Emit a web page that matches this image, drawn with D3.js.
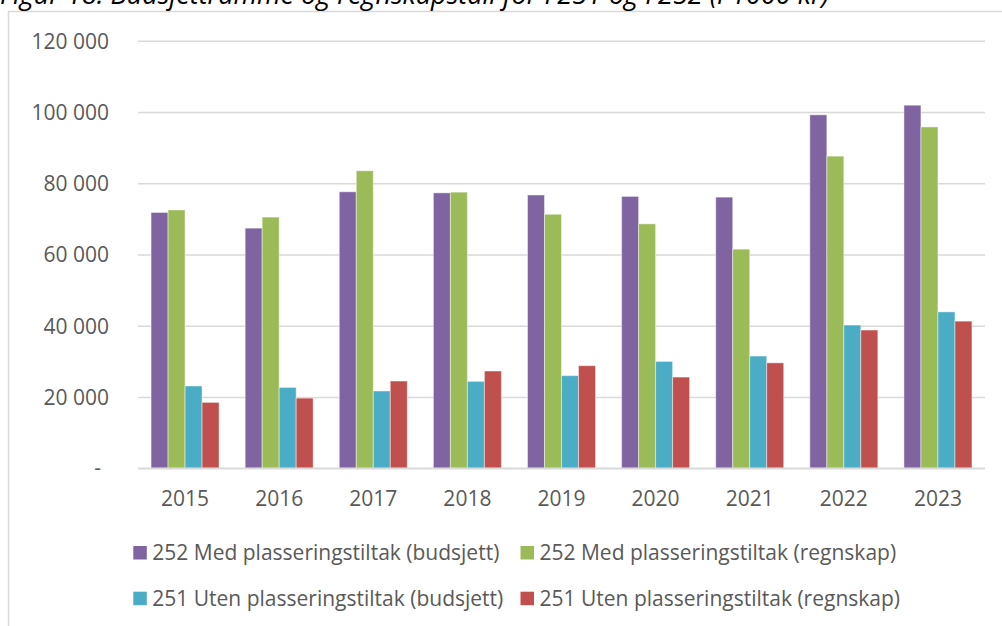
<!DOCTYPE html>
<html>
<head>
<meta charset="utf-8">
<script src="https://cdn.jsdelivr.net/npm/d3@7"></script>
<style>
  html, body { margin: 0; padding: 0; background: #fff; }
  svg { display: block; }
  text { font-family: "Open Sans", "Noto Sans", sans-serif; }
</style>
</head>
<body>
<svg id="chart" width="1002" height="626"></svg>
<script>
const titleText = "Figur 18: Budsjettramme og regnskapstall for F251 og F252 (i 1000 kr)";
const years = ["2015", "2016", "2017", "2018", "2019", "2020", "2021", "2022", "2023"];
const seriesNames = [
  "252 Med plasseringstiltak (budsjett)",
  "252 Med plasseringstiltak (regnskap)",
  "251 Uten plasseringstiltak (budsjett)",
  "251 Uten plasseringstiltak (regnskap)"
];
const seriesColors = ["#8064A2", "#9BBB59", "#4BACC6", "#C0504D"];
const med252Budsjett  = [71800, 67400, 77600, 77300, 76700, 76300, 76100, 99200, 101900];
const med252Regnskap  = [72500, 70500, 83500, 77500, 71300, 68600, 61500, 87600, 95800];
const uten251Budsjett = [23100, 22700, 21700, 24400, 26000, 30000, 31500, 40200, 43900];
const uten251Regnskap = [18500, 19700, 24500, 27300, 28800, 25600, 29600, 38800, 41300];
const yTicks = [0, 20000, 40000, 60000, 80000, 100000, 120000];

const seriesValues = [med252Budsjett, med252Regnskap, uten251Budsjett, uten251Regnskap];

const svg = d3.select("#chart");
const textColor = "#595959";
const gridColor = "#d9d9d9";
const fontSize = 21;

// chart frame
svg.append("path")
  .attr("d", "M8.5,626 L8.5,11.5 L1002,11.5")
  .attr("fill", "none")
  .attr("stroke", gridColor)
  .attr("stroke-width", 1.5);

// title (partially cut off at top, as in the reference)
svg.append("text")
  .attr("x", 0)
  .attr("y", 4)
  .attr("font-style", "italic")
  .attr("font-size", 27)
  .attr("fill", "#000")
  .text(titleText);

const x0 = d3.scaleBand().domain(years).range([138, 985]).paddingInner(0.2774).paddingOuter(0.1387);
const x1 = d3.scaleBand().domain(d3.range(seriesNames.length)).range([0, x0.bandwidth()]).padding(0);
const y = d3.scaleLinear().domain([0, 120000]).range([468.3, 40.7]);

const fmt = v => v === 0 ? "-" : d3.format(",")(v).replace(/,/g, " ");

// gridlines
const yAxis = d3.axisLeft(y).tickValues(yTicks).tickSize(-(985 - 138)).tickFormat(fmt);
const gY = svg.append("g").attr("transform", "translate(138,0)").call(yAxis);
gY.select(".domain").remove();
gY.selectAll(".tick line").attr("stroke", gridColor).attr("stroke-width", 1.5);
gY.selectAll(".tick text")
  .attr("x", -29)
  .attr("fill", textColor)
  .attr("font-size", fontSize)
  .attr("font-family", "'Open Sans', sans-serif")
  .attr("dy", "0.35em");
gY.selectAll(".tick").filter(d => d === 0).select("text").attr("x", -37).attr("dy", "0.3em");

// bars
const groups = svg.append("g").selectAll("g")
  .data(years)
  .join("g")
  .attr("transform", d => `translate(${x0(d)},0)`);

groups.selectAll("rect")
  .data((d, i) => seriesValues.map((vals, s) => ({ s, v: vals[i] })))
  .join("rect")
  .attr("x", d => x1(d.s))
  .attr("y", d => y(d.v))
  .attr("width", x1.bandwidth())
  .attr("height", d => y(0) - y(d.v))
  .attr("fill", d => seriesColors[d.s])
  .attr("stroke", "#ffffff")
  .attr("stroke-opacity", 0.45)
  .attr("stroke-width", 1);

// x axis line
const xAxis = d3.axisBottom(x0).tickSize(0).tickPadding(0);
const gX = svg.append("g").attr("transform", `translate(0,${y(0)})`).call(xAxis);
gX.select(".domain").attr("stroke", gridColor).attr("stroke-width", 1.5).attr("d", `M138,0H985`);
gX.selectAll(".tick text")
  .attr("y", 38)
  .attr("dy", 0)
  .attr("fill", textColor)
  .attr("font-size", fontSize)
  .attr("font-family", "'Open Sans', sans-serif");

// legend
const legendPos = [
  { x: 133.3, y: 546 },
  { x: 520.5, y: 546 },
  { x: 133.3, y: 591.7 },
  { x: 520.5, y: 591.7 }
];
const legend = svg.append("g").selectAll("g")
  .data(seriesNames)
  .join("g")
  .attr("transform", (d, i) => `translate(${legendPos[i].x},${legendPos[i].y})`);
legend.append("rect")
  .attr("width", 13.5).attr("height", 13.5)
  .attr("fill", (d, i) => seriesColors[i]);
legend.append("text")
  .attr("x", 19)
  .attr("y", 14)
  .attr("fill", textColor)
  .attr("font-size", fontSize)
  .text(d => d);
</script>
</body>
</html>
